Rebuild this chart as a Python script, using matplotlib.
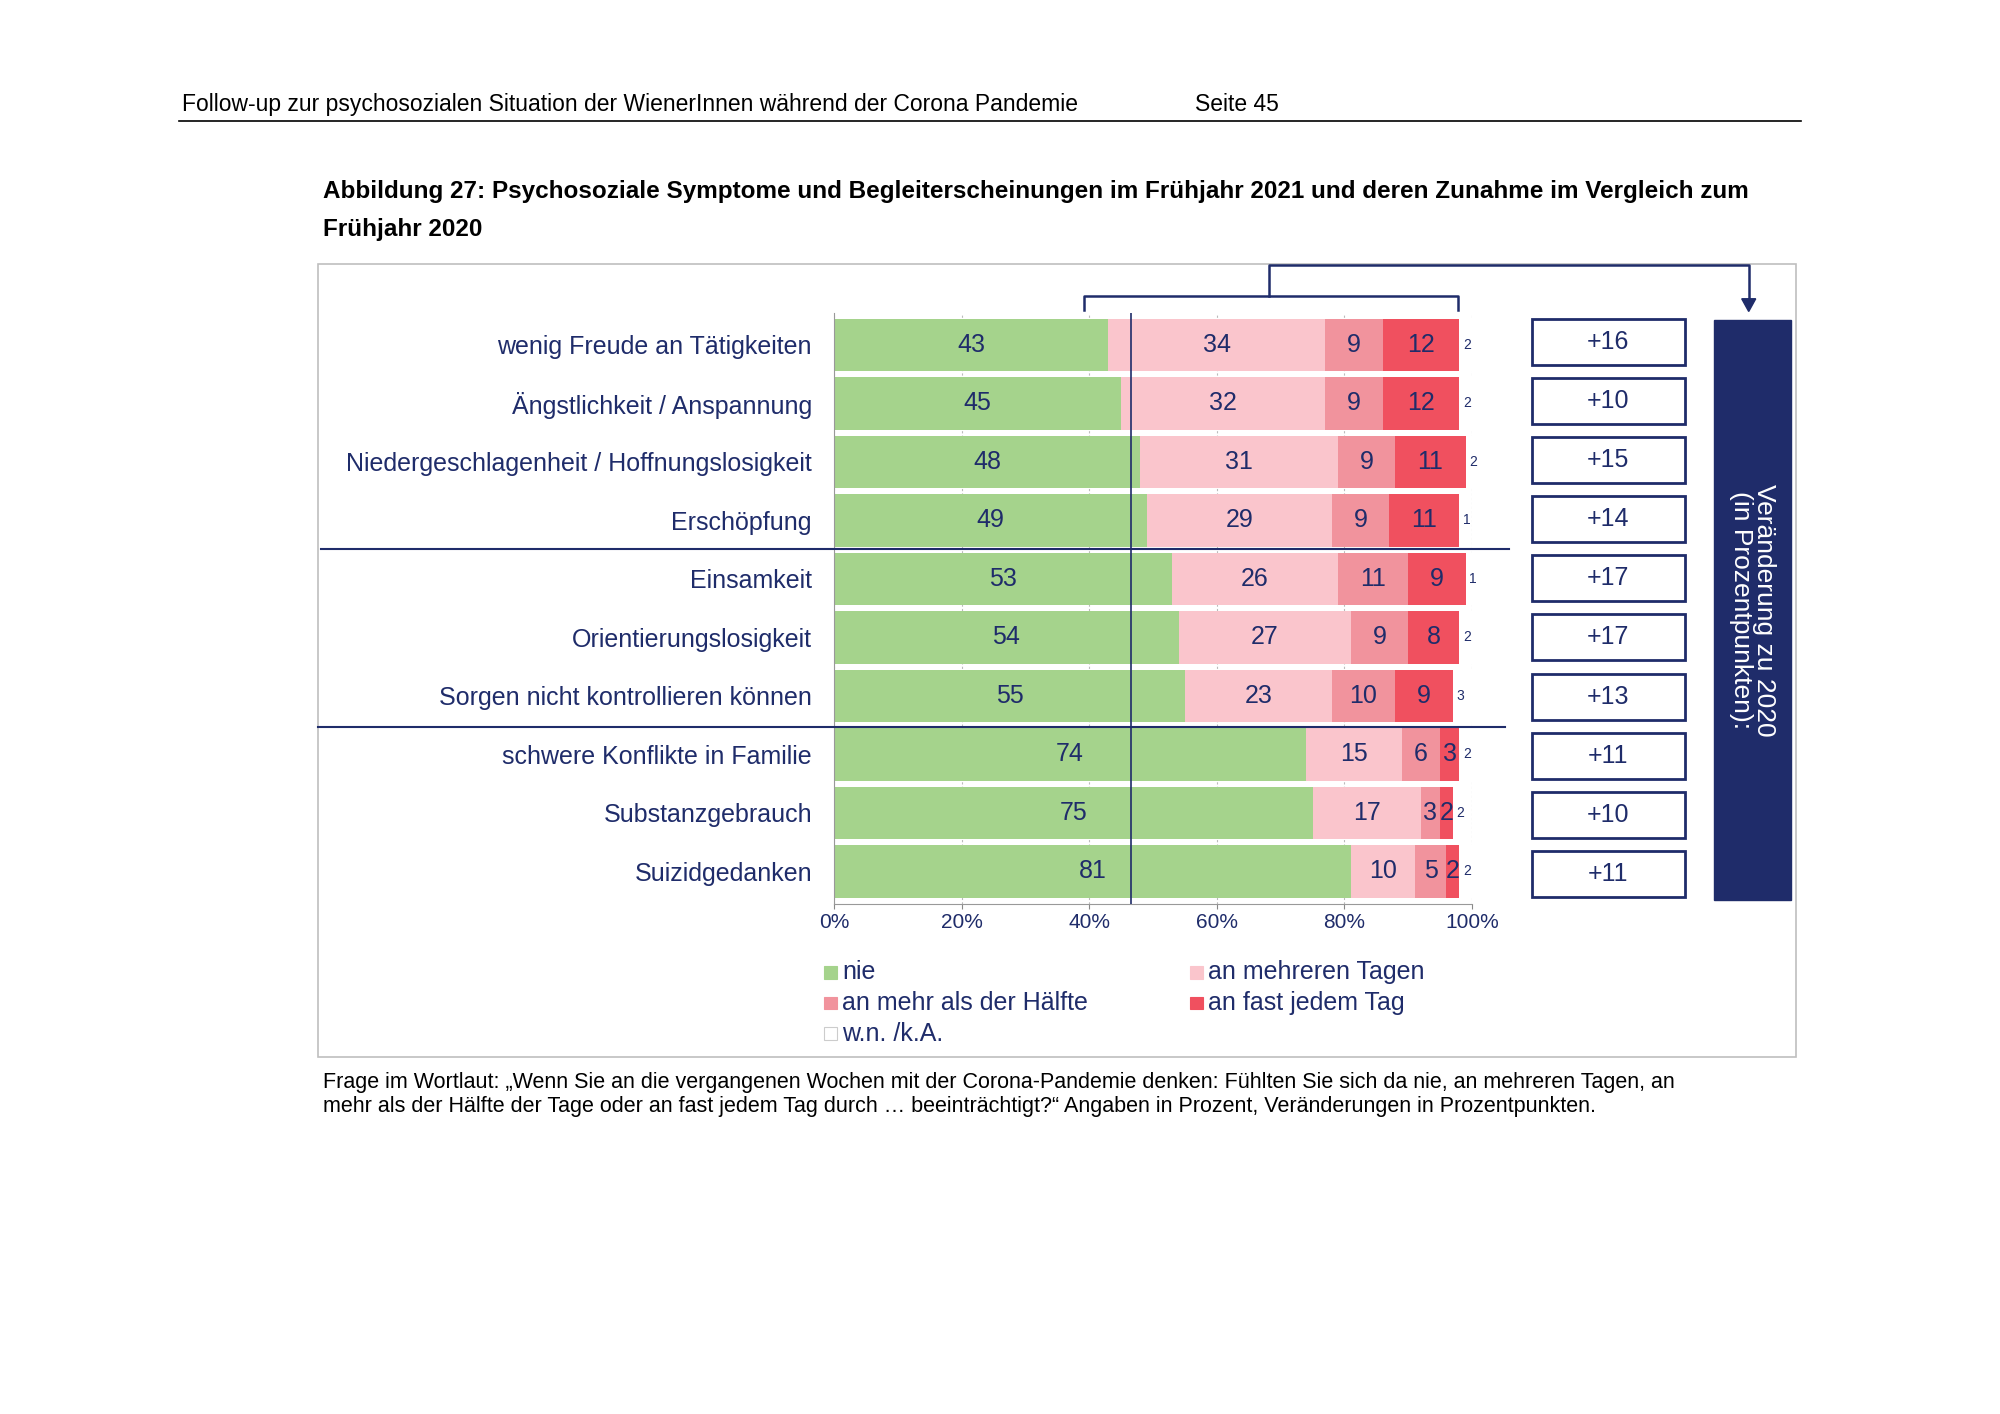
import matplotlib.pyplot as plt
from matplotlib.patches import Rectangle, FancyArrow
from matplotlib.lines import Line2D

categories = ["wenig Freude an Tätigkeiten", "Ängstlichkeit / Anspannung",
              "Niedergeschlagenheit / Hoffnungslosigkeit", "Erschöpfung", "Einsamkeit",
              "Orientierungslosigkeit", "Sorgen nicht kontrollieren können",
              "schwere Konflikte in Familie", "Substanzgebrauch", "Suizidgedanken"]
nie = [43, 45, 48, 49, 53, 54, 55, 74, 75, 81]
mehreren = [34, 32, 31, 29, 26, 27, 23, 15, 17, 10]
haelfte = [9, 9, 9, 9, 11, 9, 10, 6, 3, 5]
fast = [12, 12, 11, 11, 9, 8, 9, 3, 2, 2]
wnka = [2, 2, 2, 1, 1, 2, 3, 2, 2, 2]
changes = ["+16", "+10", "+15", "+14", "+17", "+17", "+13", "+11", "+10", "+11"]
series_names = ["nie", "an mehreren Tagen", "an mehr als der Hälfte", "an fast jedem Tag", "w.n. /k.A."]
colors = ["#a5d38c", "#fac5cc", "#f1939d", "#f0505f", "#ffffff"]
navy = "#1f2c6a"

W, H = 1568, 1108
def fx(x): return x / W
def fy(y): return 1 - y / H

fig = plt.figure(figsize=(20, 14.14), dpi=100)
plt.rcParams['font.family'] = ['Liberation Sans', 'DejaVu Sans']

# header
fig.text(fx(143), fy(82), "Follow-up zur psychosozialen Situation der WienerInnen während der Corona Pandemie",
         fontsize=16.5, va='center')
fig.text(fx(937), fy(82), "Seite 45", fontsize=16.5, va='center')
fig.add_artist(Line2D([fx(140), fx(1412)], [fy(95), fy(95)], color='black', lw=1.2))
fig.text(fx(253), fy(150), "Abbildung 27: Psychosoziale Symptome und Begleiterscheinungen im Frühjahr 2021 und deren Zunahme im Vergleich zum",
         fontsize=17.5, fontweight='bold', va='center')
fig.text(fx(253), fy(180), "Frühjahr 2020", fontsize=17.5, fontweight='bold', va='center')

# frame
fig.add_artist(Rectangle((fx(249), fy(828)), fx(1408) - fx(249), fy(207) - fy(828),
                         fill=False, ec='#bfbfbf', lw=1.2))

ax = fig.add_axes([fx(654), fy(708), fx(1154) - fx(654), fy(245) - fy(708)])
data = [nie, mehreren, haelfte, fast, wnka]
y = list(range(len(categories)))
left = [0] * len(categories)
for vals, col in zip(data, colors):
    ax.barh(y, vals, left=left, height=0.9, color=col, zorder=2)
    left = [l + v for l, v in zip(left, vals)]
ax.set_ylim(9.55, -0.55)
ax.set_xlim(0, 100)
for i in y:
    pos = 0
    for k, vals in enumerate(data[:4]):
        v = vals[i]
        ax.text(pos + v / 2, i, str(v), ha='center', va='center', fontsize=18, color=navy, zorder=3)
        pos += v
    ax.text(pos + 0.6, i, str(wnka[i]), ha='left', va='center', fontsize=10, color=navy, zorder=3)
ax.set_yticks(y)
ax.set_yticklabels(categories, fontsize=18, color=navy)
ax.tick_params(axis='y', length=0, pad=16)
ax.set_xticks(range(0, 101, 20))
ax.set_xticklabels([f"{t}%" for t in range(0, 101, 20)], fontsize=15, color=navy)
ax.tick_params(axis='x', colors='#888888', labelcolor=navy)
ax.grid(axis='x', color='#bbbbbb', linestyle=(0, (2, 2)), lw=0.8, zorder=1)
for s in ['top', 'right']:
    ax.spines[s].set_visible(False)
ax.spines['left'].set_color('#999999')
ax.spines['bottom'].set_color('#999999')
ax.axvline(46.5, color=navy, lw=1.2, zorder=4)

# separators
fig.add_artist(Line2D([fx(252), fx(1183)], [fy(430), fy(430)], color=navy, lw=1.5))
fig.add_artist(Line2D([fx(249), fx(1180)], [fy(570), fy(570)], color=navy, lw=1.5))

# bracket and arrow
fig.add_artist(Line2D([fx(850), fx(850), fx(1143), fx(1143)], [fy(243), fy(232), fy(232), fy(243)], color=navy, lw=1.8))
fig.add_artist(Line2D([fx(995), fx(995), fx(1371), fx(1371)], [fy(232), fy(208), fy(208), fy(236)], color=navy, lw=1.8))
fig.add_artist(FancyArrow(fx(1371), fy(234), 0, -(fy(234) - fy(245)) * 0.01, width=0.0,
                          head_width=0.007, head_length=0.009, length_includes_head=False, color=navy))

# change boxes
for i, c in enumerate(changes):
    yc = 268 + i * 46.3
    fig.add_artist(Rectangle((fx(1201), fy(yc + 18)), fx(1321) - fx(1201), fy(yc - 18) - fy(yc + 18),
                             fill=False, ec=navy, lw=2))
    fig.text(fx(1261), fy(yc), c, ha='center', va='center', fontsize=18, color=navy)

fig.add_artist(Rectangle((fx(1344), fy(705)), fx(1404) - fx(1344), fy(251) - fy(705), color=navy))
fig.text(fx(1374), fy(478), "Veränderung zu 2020\n(in Prozentpunkten):", rotation=270,
         ha='center', va='center', fontsize=19, color='white', linespacing=0.95)

# legend
leg_pos = [(648, 762), (935, 762), (648, 786), (935, 786), (648, 810)]
for (lx, ly), name, col in zip(leg_pos, series_names, colors):
    fig.add_artist(Rectangle((fx(lx - 2), fy(ly + 5)), fx(10), fy(0) - fy(10),
                             fc=col, ec='#cccccc' if col == '#ffffff' else col, lw=0.8))
    fig.text(fx(lx + 12), fy(ly), name, fontsize=18, color=navy, va='center')

fig.text(fx(253), fy(848), "Frage im Wortlaut: „Wenn Sie an die vergangenen Wochen mit der Corona-Pandemie denken: Fühlten Sie sich da nie, an mehreren Tagen, an",
         fontsize=15.5, va='center')
fig.text(fx(253), fy(867), "mehr als der Hälfte der Tage oder an fast jedem Tag durch … beeinträchtigt?“ Angaben in Prozent, Veränderungen in Prozentpunkten.",
         fontsize=15.5, va='center')

fig.savefig("out.png", dpi=100, facecolor='white')
